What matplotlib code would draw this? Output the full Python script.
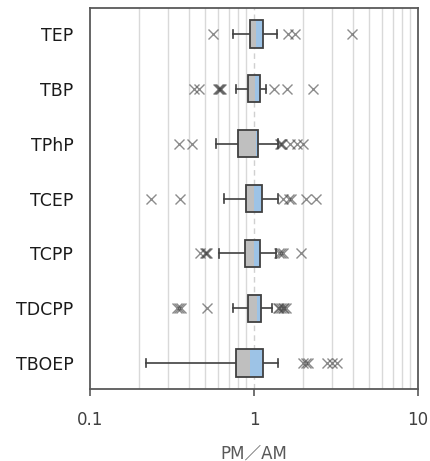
import matplotlib
matplotlib.use('Agg')
import matplotlib.pyplot as plt
from matplotlib.ticker import LogLocator, NullFormatter, FixedLocator

# compounds, top to bottom
names = ['TEP', 'TBP', 'TPhP', 'TCEP', 'TCPP', 'TDCPP', 'TBOEP']

# box statistics (PM/AM ratio)
whis_lo = [0.75, 0.78, 0.585, 0.66, 0.61, 0.75, 0.22]
q1 = [0.945, 0.92, 0.80, 0.90, 0.88, 0.92, 0.78]
med = [1.03, 1.01, 1.03, 1.00, 1.00, 1.04, 0.945]
q3 = [1.14, 1.09, 1.06, 1.12, 1.09, 1.10, 1.14]
whis_hi = [1.39, 1.19, 1.40, 1.40, 1.37, 1.28, 1.40]

# outliers
out_TEP = [0.565, 1.62, 1.78, 3.94]
out_TBP = [0.43, 0.46, 0.60, 0.61, 0.62, 0.63, 1.33, 1.60, 2.28]
out_TPhP = [0.35, 0.42, 1.45, 1.47, 1.49, 1.66, 1.83, 2.0]
out_TCEP = [0.234, 0.354, 1.50, 1.63, 1.67, 2.09, 2.40]
out_TCPP = [0.47, 0.50, 0.51, 0.52, 1.42, 1.46, 1.50, 1.93]
out_TDCPP = [0.34, 0.35, 0.36, 0.52, 1.40, 1.43, 1.46, 1.50, 1.53, 1.56]
out_TBOEP = [2.0, 2.07, 2.13, 2.77, 2.97, 3.2]
outliers = [out_TEP, out_TBP, out_TPhP, out_TCEP, out_TCPP, out_TDCPP, out_TBOEP]

edge = '#404040'
gray = '#bfbfbf'
blue = '#9dc3e6'

fig = plt.figure(figsize=(4.31, 4.61), dpi=100)
ax = fig.add_axes([0.2088, 0.1562, 0.761, 0.8264])

pos = list(range(1, len(names) + 1))
h = 0.5

# two-tone boxes
ax.barh(pos, [m - a for m, a in zip(med, q1)], left=q1, height=h,
        color=gray, edgecolor='none', zorder=3)
ax.barh(pos, [b - m for m, b in zip(med, q3)], left=med, height=h,
        color=blue, edgecolor='none', zorder=3)
ax.barh(pos, [b - a for a, b in zip(q1, q3)], left=q1, height=h,
        fill=False, edgecolor=edge, linewidth=1.3, zorder=4)

# whiskers, caps, outliers
stats = []
for i in range(len(names)):
    stats.append(dict(whislo=whis_lo[i], q1=q1[i], med=med[i], q3=q3[i],
                      whishi=whis_hi[i], fliers=outliers[i]))
ax.bxp(stats, positions=pos, orientation='horizontal', showbox=False,
       widths=h, capwidths=0.15,
       whiskerprops=dict(color=edge, linewidth=1.2),
       capprops=dict(color=edge, linewidth=1.2),
       medianprops=dict(linewidth=0),
       flierprops=dict(marker='x', markersize=7, markeredgecolor='#404040',
                       markeredgewidth=1.0, alpha=0.6, linestyle='none'),
       zorder=2)

ax.set_xscale('log')
ax.set_xlim(0.1, 10)
ax.set_ylim(7.47, 0.53)

# grid
ax.xaxis.set_minor_locator(LogLocator(base=10, subs=[2, 3, 4, 5, 6, 7, 8, 9]))
ax.xaxis.set_minor_formatter(NullFormatter())
ax.grid(True, which='minor', axis='x', color='#d9d9d9', linewidth=1.0, zorder=0)
ax.axvline(1, color='#d0d0d0', linewidth=1.0, linestyle=(0, (4, 3)), zorder=1)
ax.set_axisbelow(True)

ax.xaxis.set_major_locator(FixedLocator([0.1, 1, 10]))
ax.set_xticklabels(['0.1', '1', '10'])
ax.tick_params(axis='x', which='major', direction='out', length=5, width=1.2,
               color='#595959', labelsize=12, labelcolor='#404040', pad=11)
ax.tick_params(axis='x', which='minor', length=0)
ax.set_yticks(pos)
ax.set_yticklabels(names, fontsize=12.5, color='#1a1a1a')
ax.tick_params(axis='y', length=0, pad=12)

for s in ax.spines.values():
    s.set_color('#595959')
    s.set_linewidth(1.3)

ax.set_xlabel('PM／AM', fontsize=12, color='#595959', labelpad=11,
              family=['DejaVu Sans', 'Noto Sans CJK JP'])

plt.savefig('out.png', dpi=100)
plt.close()
